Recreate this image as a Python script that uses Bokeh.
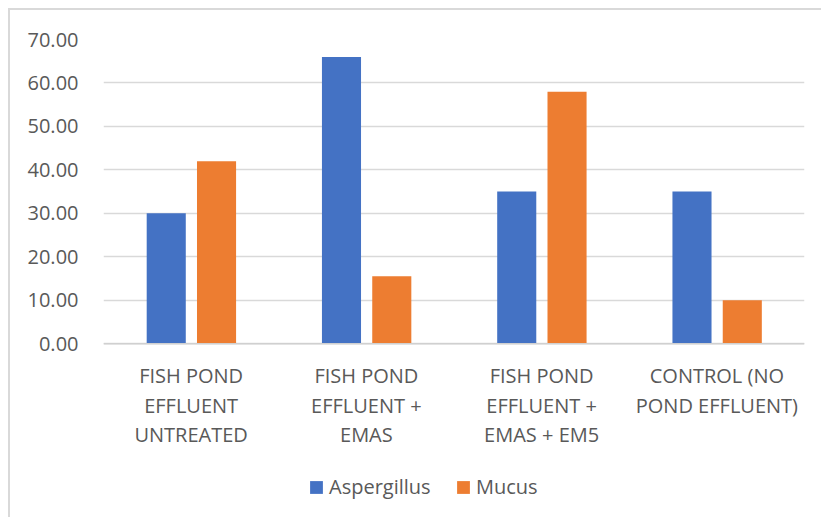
from bokeh.plotting import figure
from bokeh.models import (FactorRange, Range1d, NumeralTickFormatter, FixedTicker, Legend,
                          LegendItem, ColumnDataSource, Span)
from bokeh.core.properties import value
from bokeh.transform import dodge
from bokeh.embed import file_html
from bokeh.resources import INLINE

categories = ["FISH POND\nEFFLUENT\nUNTREATED", "FISH POND\nEFFLUENT +\nEMAS",
              "FISH POND\nEFFLUENT +\nEMAS + EM5", "CONTROL (NO\nPOND EFFLUENT)"]
aspergillus = [30.0, 66.0, 35.0, 35.0]
mucus = [42.0, 15.5, 58.0, 10.0]
y_ticks = [0, 10, 20, 30, 40, 50, 60, 70]

FONT = "Open Sans"
GRAY = "#595959"
LABEL_Y0 = -7.4     # first label line, in axis units below the baseline
LABEL_DY = -6.75    # line spacing of category labels

src = ColumnDataSource(dict(cat=categories, asp=aspergillus, muc=mucus))

# category label lines (drawn below the baseline inside the extended frame)
lab_x, lab_y, lab_t = [], [], []
for c in categories:
    for i, line in enumerate(c.split("\n")):
        lab_x.append(c)
        lab_y.append(LABEL_Y0 + i * LABEL_DY)
        lab_t.append(line)
lab_src = ColumnDataSource(dict(x=lab_x, y=lab_y, t=lab_t))

p = figure(x_range=FactorRange(*categories), y_range=Range1d(-40, 70),
           frame_width=701, frame_height=478, output_backend="svg", toolbar_location=None,
           min_border_left=93, min_border_right=17, min_border_top=29, min_border_bottom=0)
p.styles = {"border-left": "2px solid #d9d9d9", "border-top": "2px solid #d9d9d9",
            "margin-left": "8px", "margin-top": "8px"}

r1 = p.vbar(x=dodge("cat", -0.142, range=p.x_range), top="asp", width=0.223, source=src,
            fill_color="#4472C4", line_color=None)
r2 = p.vbar(x=dodge("cat", 0.145, range=p.x_range), top="muc", width=0.223, source=src,
            fill_color="#ED7D31", line_color=None)

p.add_layout(Span(location=0, dimension="width", line_color="#d0d0d0", line_width=1.5))

p.text(x="x", y="y", text="t", source=lab_src, text_align="center", text_baseline="middle",
       text_font=value(FONT), text_font_size="20px", text_color=GRAY)

p.outline_line_color = None
p.xgrid.grid_line_color = None
p.ygrid.grid_line_color = "#d9d9d9"
p.ygrid.grid_line_width = 1.5
p.yaxis.ticker = FixedTicker(ticks=y_ticks)
p.yaxis.formatter = NumeralTickFormatter(format="0.00")
p.yaxis.axis_line_color = None
p.yaxis.major_tick_line_color = None
p.yaxis.minor_tick_line_color = None
p.yaxis.major_label_standoff = 19
p.yaxis.major_label_text_font = FONT
p.yaxis.major_label_text_font_size = "20px"
p.yaxis.major_label_text_color = GRAY
p.xaxis.visible = False

legend = Legend(items=[LegendItem(label="Aspergillus", renderers=[r1]),
                       LegendItem(label="Mucus", renderers=[r2])],
                orientation="horizontal", location=(205, 17))
legend.label_text_font = FONT
legend.label_text_font_size = "20px"
legend.label_text_color = GRAY
legend.glyph_width = 16
legend.glyph_height = 16
legend.label_standoff = 5
legend.label_width = 122
legend.spacing = 4
legend.padding = 0
legend.margin = 0
legend.border_line_color = None
legend.background_fill_alpha = 0
p.add_layout(legend, "center")

open("out.html", "w").write(file_html(p, INLINE))
